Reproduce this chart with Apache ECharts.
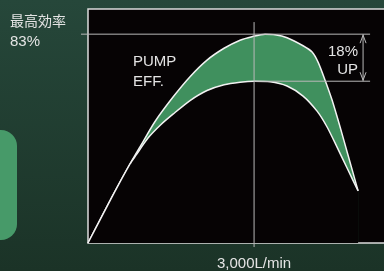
<!DOCTYPE html>
<html>
<head>
<meta charset="utf-8">
<script src="https://cdn.jsdelivr.net/npm/echarts@6/dist/echarts.min.js"></script>
<style>
    html, body { margin: 0; padding: 0; }
    #chart { width: 384px; height: 271px; }
</style>
</head>
<body>
<div id="chart"></div>
<script>
// flow (L/min) and pump efficiency (%)
const flowUpper = [0, 434, 759, 958, 1211, 1536, 1843, 2150, 2458, 2747, 2963, 3198, 3379, 3596,
    3885, 4048, 4156, 4283, 4409, 4554, 4698, 4879];
const effUpper = [0, 18.3, 31.4, 38.9, 48.3, 58.0, 66.1, 72.7, 77.4, 80.6, 82.0, 83.0, 82.8, 81.6,
    78.4, 75.9, 71.9, 64.7, 56.8, 46.1, 34.9, 20.7];
const flowLower = [0, 434, 759, 867, 1084, 1319, 1536, 1843, 2150, 2458, 2747, 3000, 3289, 3596,
    3885, 4138, 4319, 4499, 4680, 4879];
const effLower = [0, 18.3, 31.4, 34.9, 41.7, 47.1, 51.2, 56.6, 60.6, 62.9, 63.9, 64.3, 64.1, 62.4,
    58.4, 52.4, 46.1, 38.1, 29.8, 20.7];

const ratedFlow = 3000;
const maxEff = 83;
const baseEff = 64.3;
const xTickLabels = { 3000: '3,000L/min' };

// guide lines: [x1, y1, x2, y2, arrows]
const guides = [
    [ratedFlow, 87.8, ratedFlow, -1.6, 0],
    [-126, maxEff, 5096, maxEff, 0],
    [ratedFlow, baseEff, 5096, baseEff, 0],
    [4969, maxEff, 4969, baseEff, 1],
];

const FONT = '"Liberation Sans", Arial, "Noto Sans CJK JP", sans-serif';
const TEXT = '#e4e4e4';

const zip = (xs, ys) => xs.map((x, i) => [x, ys[i]]);

const renderGuide = (params, api) => {
    const a = api.coord([api.value(0), api.value(1)]);
    const b = api.coord([api.value(2), api.value(3)]);
    const style = { stroke: '#b8b8b8', lineWidth: 1, fill: null };
    const children = [{ type: 'line', shape: { x1: a[0], y1: a[1], x2: b[0], y2: b[1] }, style }];
    if (api.value(4)) {
        const x = a[0];
        children.push({ type: 'polyline', shape: { points: [[x - 3, a[1] + 9], [x, a[1] + 1], [x + 3, a[1] + 9]] }, style });
        children.push({ type: 'polyline', shape: { points: [[x - 3, b[1] - 9], [x, b[1] - 1], [x + 3, b[1] - 9]] }, style });
    }
    return { type: 'group', children };
};

const chart = echarts.init(document.getElementById('chart'));

chart.setOption({
    animation: false,
    backgroundColor: {
        type: 'linear', x: 0, y: 0, x2: 0, y2: 1,
        colorStops: [
            { offset: 0, color: '#26473a' },
            { offset: 1, color: '#1b3327' },
        ],
    },
    grid: {
        show: true,
        left: 88,
        top: 9,
        width: 310,
        height: 234,
        outerBoundsMode: 'none',
        containLabel: false,
        backgroundColor: '#060304',
        borderColor: '#dcdcdc',
        borderWidth: 1.5,
    },
    xAxis: {
        type: 'value',
        min: 0,
        max: 5600,
        interval: 3000,
        axisLine: { show: false },
        axisTick: { show: false },
        splitLine: { show: false },
        axisLabel: {
            margin: 13,
            color: TEXT,
            fontSize: 15,
            fontFamily: FONT,
            formatter: (v) => xTickLabels[v] || '',
        },
    },
    yAxis: {
        type: 'value',
        min: 0,
        max: 93,
        show: false,
    },
    graphic: [
        {
            type: 'rect',
            shape: { x: -20, y: 130, width: 37, height: 110, r: 16 },
            style: { fill: '#479a69' },
        },
        {
            type: 'text', x: 10, y: 14,
            style: { text: '最高効率', fill: TEXT, fontSize: 14, fontFamily: '"Noto Sans CJK JP", sans-serif' },
        },
        {
            type: 'text', x: 10, y: 34,
            style: { text: '83%', fill: TEXT, fontSize: 15, fontFamily: FONT },
        },
        {
            type: 'text', x: 133, y: 52,
            style: { text: 'PUMP\nEFF.', fill: TEXT, fontSize: 15, lineHeight: 20, fontFamily: FONT },
            z: 20,
        },
        {
            type: 'text', x: 358, y: 43,
            style: { text: '18%\nUP', fill: TEXT, fontSize: 15, lineHeight: 18, align: 'right', fontFamily: FONT },
            z: 20,
        },
    ],
    series: [
        {
            name: 'upper',
            type: 'line',
            data: zip(flowUpper, effUpper),
            smooth: 0.25,
            symbol: 'none',
            z: 2,
            lineStyle: { color: '#f2f2f2', width: 1.5 },
            areaStyle: { color: '#40905e', opacity: 1 },
        },
        {
            name: 'lower',
            type: 'line',
            data: zip(flowLower, effLower),
            smooth: 0.25,
            symbol: 'none',
            z: 3,
            lineStyle: { color: '#f2f2f2', width: 1.5 },
            areaStyle: { color: '#060304', opacity: 1 },
        },
        {
            name: 'guides',
            type: 'custom',
            data: guides,
            clip: false,
            silent: true,
            z: 6,
            renderItem: renderGuide,
        },
    ],
});
</script>
</body>
</html>
